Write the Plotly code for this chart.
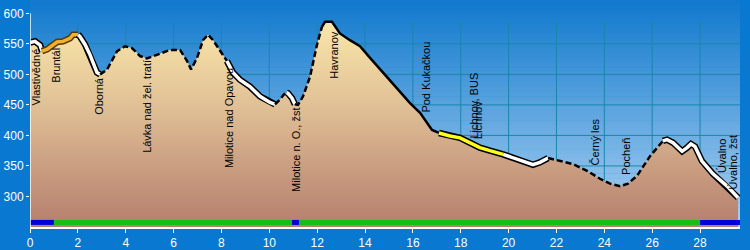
import plotly.graph_objects as go
import numpy as np

# ---- profile data (km, elevation m) ----
km = [0.00, 0.21, 0.42, 0.50, 0.71, 1.13, 1.38, 1.67, 1.80, 2.01, 2.09, 2.30, 2.51, 2.80, 2.93,
      3.22, 3.64, 3.97, 4.26, 4.60, 4.89, 5.31, 5.85, 6.27, 6.56, 6.73, 6.98, 7.23, 7.44, 7.65,
      7.94, 8.23, 8.48, 8.78, 9.19, 9.61, 10.03, 10.24, 10.45, 10.61, 10.72, 10.78, 10.95, 11.07,
      11.20, 11.41, 11.70, 11.99, 12.20, 12.33, 12.62, 12.75, 12.95, 13.37, 13.79, 14.21, 14.75,
      15.34, 15.88, 16.30, 16.59, 16.80, 17.09, 17.55, 17.97, 18.39, 18.80, 19.22, 19.77, 20.35,
      21.02, 21.31, 21.65, 22.02, 22.69, 23.28, 23.82, 24.24, 24.66, 24.99, 25.37, 25.91, 26.33,
      26.45, 26.62, 26.87, 27.25, 27.46, 27.62, 27.79, 28.08, 28.54, 29.13, 29.59]
elev = [552, 554, 548, 538, 541, 553, 554, 559, 565, 565, 562, 549, 532, 503, 500,
        508, 538, 546, 543, 530, 526, 532, 540, 540, 522, 508, 527, 556, 565, 556,
        538, 522, 503, 491, 480, 464, 454, 451, 459, 467, 470, 469, 461, 451,
        450, 464, 496, 548, 578, 586, 586, 578, 567, 556, 546, 527, 503,
        477, 453, 437, 420, 409, 404, 399, 396, 388, 380, 375, 369, 361,
        352, 356, 363, 359, 353, 342, 329, 321, 317, 321, 334, 366, 385,
        391, 393, 388, 374, 380, 386, 382, 358, 337, 317, 298]

# ---- line-style segments along the route ----
seg_start = [0.00, 0.50, 2.01, 2.93, 8.23, 10.24, 10.72, 11.07, 12.20, 17.09, 19.77, 21.65, 26.45]
seg_end   = [0.50, 2.01, 2.93, 8.23, 10.24, 10.72, 11.07, 12.20, 17.09, 19.77, 21.65, 26.45, 29.59]
seg_style = ["white", "orange", "white", "dash", "white", "dash", "white", "dash", "solid",
             "yellow", "white", "dash", "white"]

# ---- bottom surface bar ----
bar_start = [0.0, 1.0, 10.95, 11.24, 28.0]
bar_end   = [1.0, 10.95, 11.24, 28.0, 29.67]
bar_color = ["#0000dc", "#14be14", "#0000dc", "#14be14", "#0000dc"]
BAR_Y = 257.5

# ---- point labels ----
lab_text = ["Vlastivědné", "Bruntál", "Oborná", "Lávka nad žel. tratí", "Milotice nad Opavou",
            "Milotice n. O., žst", "Havranov", "Pod Kukačkou", "Lichnov, BUS", "Lichnov",
            "Černý les", "Pocheň", "Úvalno", "Úvalno, žst"]
lab_km = [0.25, 1.09, 2.88, 4.89, 8.32, 11.12, 12.70, 16.55, 18.55, 18.70, 23.65, 24.91, 28.92, 29.38]
lab_base = [448, 484, 432, 369, 345, 306, 491, 435, 393, 393, 350, 333, 337, 310]

x_ticks = list(range(0, 29, 2))
y_ticks = [300, 350, 400, 450, 500, 550, 600]
XMAX = 29.67
YMIN, YMAX = 250, 621.8

fig = go.Figure()

# background gradient of plot area (style)
shapes = []
nb = 47
c0 = np.array([18, 122, 206])
c1 = np.array([172, 210, 242])
for i in range(nb):
    t = i / (nb - 1)
    c = (c0 * (1 - t) + c1 * t).astype(int)
    shapes.append(dict(type="rect", xref="paper", yref="paper", x0=0, x1=1,
                       y0=1 - (i + 1) / nb, y1=1 - i / nb + 0.002,
                       fillcolor=f"rgb({c[0]},{c[1]},{c[2]})", line_width=0, layer="below"))
grid_col = "#1a86aa"
for xv in x_ticks[1:]:
    shapes.append(dict(type="line", xref="x", yref="y", x0=xv, x1=xv, y0=YMIN, y1=586,
                       line=dict(color=grid_col, width=1), layer="below"))
for yv in y_ticks[:-1]:
    shapes.append(dict(type="line", xref="x", yref="y", x0=0, x1=XMAX, y0=yv, y1=yv,
                       line=dict(color=grid_col, width=1), layer="below"))
# y axis line
shapes.append(dict(type="line", xref="x", yref="y", x0=0, x1=0, y0=YMIN, y1=600,
                   line=dict(color="white", width=1.5), layer="above"))

# filled terrain
fig.add_trace(go.Scatter(
    x=km, y=elev, mode="lines", line=dict(width=0), fill="tozeroy",
    fillgradient=dict(type="vertical", start=YMIN, stop=590,
                      colorscale=[[0, "#b27a6c"], [0.3, "#c99c80"], [0.6, "#e0c096"],
                                  [0.85, "#f1d9a2"], [1, "#fae8ac"]]),
    hoverinfo="skip", showlegend=False))

km_a = np.array(km)
el_a = np.array(elev)
for s, e, st in zip(seg_start, seg_end, seg_style):
    m = (km_a >= s - 1e-9) & (km_a <= e + 1e-9)
    xs, ys = km_a[m], el_a[m]
    if st in ("white", "yellow", "orange"):
        col = {"white": "white", "yellow": "#ffff1e", "orange": "#f0b030"}[st]
        edge = "#5a3a00" if st == "orange" else "black"
        fig.add_trace(go.Scatter(x=xs, y=ys, mode="lines", line=dict(color=edge, width=6.5),
                                 hoverinfo="skip", showlegend=False))
        fig.add_trace(go.Scatter(x=xs, y=ys, mode="lines", line=dict(color=col, width=3.5),
                                 hoverinfo="skip", showlegend=False))
    elif st == "dash":
        fig.add_trace(go.Scatter(x=xs, y=ys, mode="lines",
                                 line=dict(color="black", width=2.5, dash="6px,3px"),
                                 hoverinfo="skip", showlegend=False))
    else:
        fig.add_trace(go.Scatter(x=xs, y=ys, mode="lines", line=dict(color="black", width=2.5),
                                 hoverinfo="skip", showlegend=False))

for s, e, c in zip(bar_start, bar_end, bar_color):
    fig.add_trace(go.Scatter(x=[s, e], y=[BAR_Y, BAR_Y], mode="lines",
                             line=dict(color=c, width=5), hoverinfo="skip", showlegend=False))

annotations = []
for t, xk, yb in zip(lab_text, lab_km, lab_base):
    annotations.append(dict(x=xk, y=yb, xref="x", yref="y", text=t, textangle=-90,
                            showarrow=False, xanchor="center", yanchor="bottom",
                            font=dict(family="Liberation Sans, Arial", size=11, color="black"),
                            borderpad=0))

fig.update_layout(
    width=750, height=250,
    margin=dict(l=30, r=10, t=0, b=15),
    paper_bgcolor="#0878d0", plot_bgcolor="rgba(0,0,0,0)",
    shapes=shapes, annotations=annotations,
    xaxis=dict(range=[0, XMAX], tickvals=x_ticks, ticks="outside", ticklen=4, tickcolor="white",
               showline=True, linecolor="white", linewidth=1.5, showgrid=False, zeroline=False,
               tickfont=dict(family="Liberation Sans, Arial", size=12, color="white")),
    yaxis=dict(range=[YMIN, YMAX], tickvals=y_ticks, ticks="outside", ticklen=3, tickcolor="white",
               showline=False, showgrid=False, zeroline=False,
               tickfont=dict(family="Liberation Sans, Arial", size=12, color="white")),
)

fig.write_html("out.html")
